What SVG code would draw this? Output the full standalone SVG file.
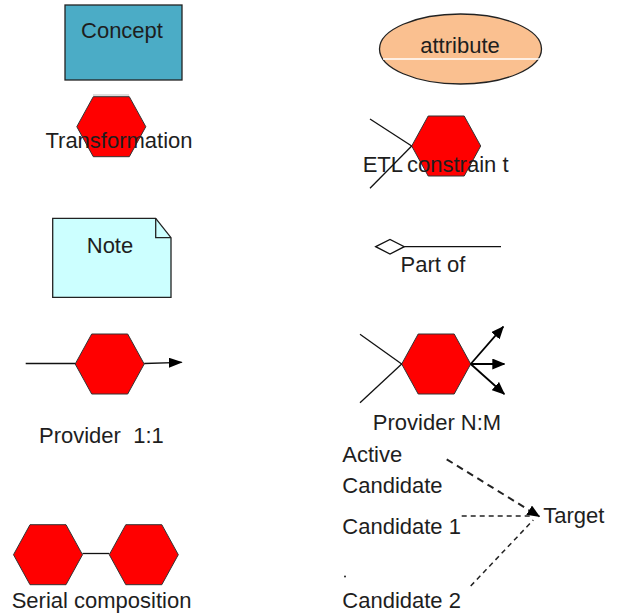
<svg xmlns="http://www.w3.org/2000/svg" width="619" height="614" viewBox="0 0 619 614">
  <style>
    text { font-family: "Liberation Sans", Arial, sans-serif; font-size: 22px; fill: #1e1e1e; }
    .mid { text-anchor: middle; }
    .hex { fill: #ff0000; stroke: #333; stroke-width: 1; }
    .ln { fill: none; stroke: #111; stroke-width: 1.3; }
    .ln2 { fill: none; stroke: #000; stroke-width: 1.8; }
    .dash { fill: none; stroke: #222; stroke-width: 1.3; stroke-dasharray: 5 4; }
    .dash-bold { stroke-width: 2; stroke-dasharray: 7 5; }
    .dash-mid { stroke-width: 1.5; }
  </style>
  <defs>
    <polygon id="hexagon" points="-34.5,0 -18,-30 18,-30 34.5,0 18,30 -18,30"/>
    <marker id="arrow" viewBox="0 0 14 10" refX="13" refY="5" markerWidth="14" markerHeight="10" markerUnits="userSpaceOnUse" orient="auto">
      <path d="M0,0 L14,5 L0,10 z" fill="#000"/>
    </marker>
    <marker id="arrowSmall" viewBox="0 0 13 11" refX="12" refY="5.5" markerWidth="13" markerHeight="11" markerUnits="userSpaceOnUse" orient="auto">
      <path d="M0,0 L13,5.5 L0,11 z" fill="#000"/>
    </marker>
  </defs>

  <!-- Concept -->
  <g id="concept">
    <rect x="65" y="5" width="117" height="75" fill="#4bacc6" stroke="#222" stroke-width="1.3"/>
    <text class="mid" x="122" y="38">Concept</text>
  </g>

  <!-- attribute -->
  <g id="attribute">
    <ellipse cx="460.5" cy="49" rx="81" ry="35" fill="#fac090" stroke="#222" stroke-width="1.3"/>
    <line x1="383" y1="59" x2="540" y2="59" stroke="#fff" stroke-width="1.3"/>
    <text class="mid" x="460" y="53">attribute</text>
  </g>

  <!-- Transformation -->
  <g id="transformation">
    <line x1="93" y1="95" x2="129" y2="95" stroke="#bbb" stroke-width="1"/>
    <use href="#hexagon" class="hex" transform="translate(111.3,126.7)"/>
    <text class="mid" x="119" y="148">Transformation</text>
  </g>

  <!-- ETL constraint -->
  <g id="etl-constraint">
    <use href="#hexagon" class="hex" transform="translate(446.2,146)"/>
    <text x="362.7" y="171.5">ETL</text>
    <text x="407" y="171.5">constrain t</text>
  </g>

  <!-- Note -->
  <g id="note">
    <path d="M52.7,218.3 H155.7 L171,237.7 V297.3 H52.7 Z" fill="#ccffff" stroke="#222" stroke-width="1.3"/>
    <path d="M155.7,218.3 V237.7 H171" fill="none" stroke="#222" stroke-width="1.3"/>
    <text class="mid" x="110" y="253">Note</text>
  </g>

  <!-- Part of -->
  <g id="part-of">
    <polygon points="375.7,246.7 390,239.5 404.3,246.7 390,254" fill="#fff" stroke="#111" stroke-width="1.3"/>
    <text class="mid" x="433" y="271.5">Part of</text>
  </g>

  <!-- Provider 1:1 -->
  <g id="provider-1-1">
    <use href="#hexagon" class="hex" transform="translate(109.7,364)"/>
    <text x="39" y="443" xml:space="preserve">Provider  1:1</text>
  </g>

  <!-- Provider N:M -->
  <g id="provider-n-m">
    <use href="#hexagon" class="hex" transform="translate(436.2,364)"/>
    <text class="mid" x="437" y="430">Provider N:M</text>
  </g>

  <!-- Serial composition -->
  <g id="serial-composition">
    <use href="#hexagon" class="hex" transform="translate(48,554.7)"/>
    <use href="#hexagon" class="hex" transform="translate(143.8,554.7)"/>
    <text x="11.7" y="608">Serial composition</text>
  </g>

  <!-- Candidates and target -->
  <g id="candidates">
    <text x="342.3" y="461.7">Active</text>
    <text x="342.3" y="492.7">Candidate</text>
    <text x="342.3" y="534.3">Candidate 1</text>
    <circle cx="345" cy="576.5" r="1" fill="#222"/>
    <text x="342.3" y="607.7">Candidate 2</text>
  </g>
  <g id="target">
    <text x="543.3" y="523.3">Target</text>
  </g>

  <!-- Connectors -->
  <g id="connectors">
    <!-- ETL constraint inputs -->
    <line class="ln" x1="370" y1="119" x2="411.7" y2="146"/>
    <line class="ln" x1="370" y1="188.3" x2="411.7" y2="146"/>
    <!-- Part of -->
    <line class="ln" x1="404.3" y1="246.7" x2="501" y2="246.7"/>
    <!-- Provider 1:1 -->
    <line class="ln" x1="25.7" y1="363.5" x2="75.2" y2="363.5"/>
    <line class="ln" x1="144.2" y1="363.5" x2="181.7" y2="362.3" marker-end="url(#arrow)"/>
    <!-- Provider N:M -->
    <line class="ln" x1="360" y1="334.3" x2="401.7" y2="364"/>
    <line class="ln" x1="360" y1="402.7" x2="401.7" y2="364"/>
    <line class="ln2" x1="470.7" y1="364" x2="503.3" y2="326.7" marker-end="url(#arrowSmall)"/>
    <line class="ln2" x1="470.7" y1="364" x2="504.3" y2="364" marker-end="url(#arrowSmall)"/>
    <line class="ln2" x1="470.7" y1="364" x2="504.3" y2="394" marker-end="url(#arrowSmall)"/>
    <!-- Serial composition -->
    <line class="ln" x1="82.5" y1="553.5" x2="109.3" y2="553.5"/>
    <!-- Candidates to target -->
    <line class="dash dash-bold" x1="446.7" y1="459.3" x2="539.3" y2="516.5" marker-end="url(#arrowSmall)"/>
    <line class="dash" x1="461.7" y1="516" x2="530" y2="516"/>
    <line class="dash dash-mid" x1="470.7" y1="586" x2="533.3" y2="520"/>
  </g>
</svg>
